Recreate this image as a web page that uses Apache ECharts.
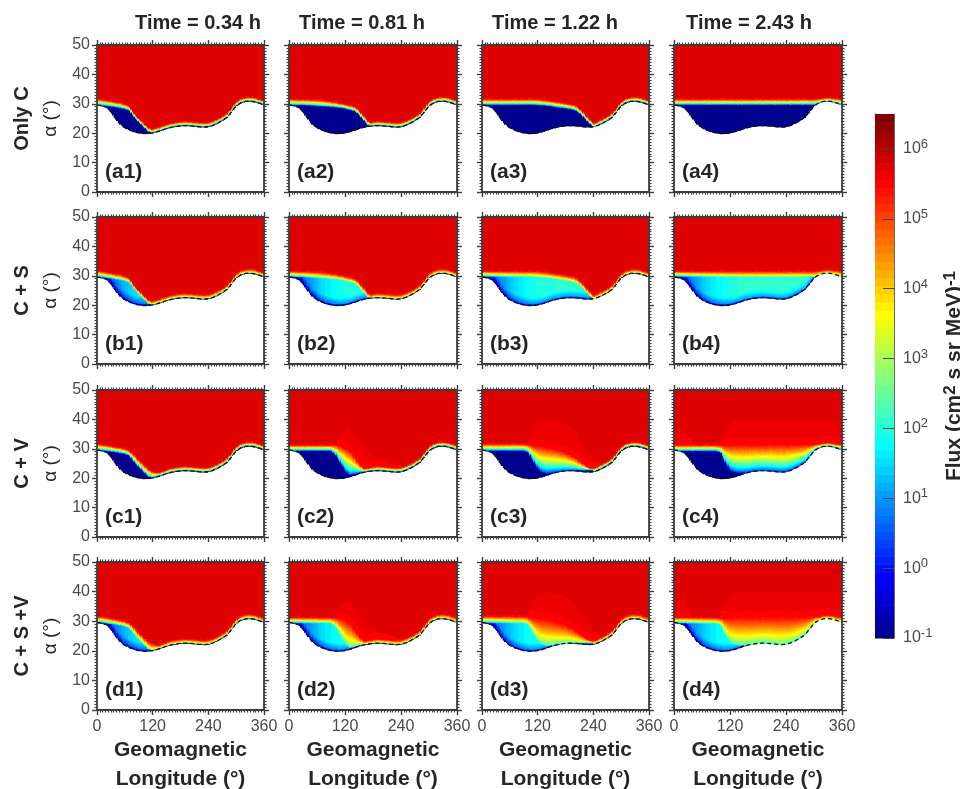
<!DOCTYPE html>
<html><head><meta charset="utf-8">
<style>html,body{margin:0;padding:0;background:#fff}#c{width:960px;height:789px}</style>
<script src="https://cdn.jsdelivr.net/npm/echarts@6/dist/echarts.min.js"></script>
</head><body><div id="c"></div>
<script>
const timeLabels = ['Time = 0.34 h','Time = 0.81 h','Time = 1.22 h','Time = 2.43 h'];
const rowLabels = ['Only C','C + S','C + V','C + S +V'];
const panelTags = ['a','b','c','d'];
const xTicks = [0,120,240,360];
const yTicks = [0,10,20,30,40,50];
const colorbarDecades = [-1,0,1,2,3,4,5,6];

const lossCone = [29.6,29.3,28.9,27.3,25,23.1,21.9,21.1,20.5,20.1,19.9,19.9,20.1,20.5,21,21.6,22,22.3,22.5,22.6,22.5,22.4,22.2,22.1,22.2,22.7,23.4,24.3,25.3,27.2,29.3,30.3,30.8,30.9,30.7,30.2,29.6];

// Upper (red) and lower (blue) edge of the rainbow front; where an array ends, the front lies on the loss cone.
const topC1 = [31.8,31.6,31.4,31.1,30.8,30.5,30,29.3,26.8,25.1,23.6,22.1,21.4];
const botC1 = [29.7,29.6,29.4,29.2,29,28.7,28.4,27.8,25.6,23.9,22.3,20.8,20.1];
const topC2 = [31.7,31.7,31.6,31.6,31.6,31.5,31.5,31.3,31.1,30.9,30.7,30.3,30,29.6,29.2,28,26,24.3,23.1];
const botC2 = [29.8,29.7,29.7,29.7,29.6,29.5,29.4,29.3,29.2,29.1,29,28.8,28.5,28.1,27.7,26.4,24.5,22.8,21.7];
const topC3 = [31.7,31.7,31.7,31.7,31.7,31.7,31.7,31.7,31.7,31.7,31.7,31.7,31.7,31.5,31.3,31.1,30.8,30.6,30.3,30,29.7,28.6,26.9,25.2,23.6,22.7];
const botC3 = [29.8,29.8,29.8,29.8,29.8,29.8,29.8,29.8,29.8,29.8,29.8,29.8,29.7,29.6,29.5,29.3,29,28.8,28.6,28.3,28,27,25.4,23.7,22.2,21.5];
const topC4 = [31.7,31.7,31.7,31.7,31.7,31.7,31.7,31.7,31.7,31.7,31.7,31.7,31.7,31.7,31.7,31.7,31.7,31.7,31.7,31.7,31.7,31.7,31.7,31.7,31.7,31.7,31.7,31.7,31.7,31.7,31.7,31.8,32,32.1,32,31.9,31.7];
const botC4 = [29.8,29.8,29.8,29.8,29.8,29.8,29.8,29.8,29.8,29.8,29.8,29.8,29.8,29.8,29.8,29.8,29.8,29.8,29.8,29.8,29.8,29.8,29.8,29.8,29.8,29.8,29.8,29.8,29.8,29.8,29.8,29.8,29.8,29.8,29.8,29.8,29.8];

const topV1 = [31.8,31.6,31.4,31.1,30.8,30.5,30.2,29.5,28.1,26.3,24.8,23.4,22.4,22,22.2,22.6];
const botV1 = [29.7,29.6,29.4,29.2,29,28.7,28.4,27.8,25.6,23.9,22.3,20.8,20.1];
const topV2 = [31.4,31.4,31.4,31.4,31.4,31.4,31.4,31.4,31.4,31.4,31.4,31,30.4,29.5,27.5,25,23.5,23.3,23.7];
const botV2 = [29.5,29.5,29.5,29.5,29.5,29.5,29.5,29.5,29.5,29.5,28,25.4,22.7,21.2,21.5,22,22.3];
const topV3 = [31.8,31.8,31.8,31.8,31.8,31.8,31.8,31.8,31.8,31.8,31.6,31.2,31,30.9,30.7,30.3,29.9,29.4,28.8,28.1,27.2,26,24.8,23.8,23.2,23];
const botV3 = [29.5,29.5,29.5,29.5,29.5,29.5,29.5,29.5,29.5,29.5,28.8,26.2,23.5,22.2,21.8,22,22.2,22.4,22.6,22.8,22.8,22.8,22.8,22.9,23];
const topV4 = [31.4,31.4,31.4,31.4,31.4,31.4,31.4,31.4,31.4,31.4,31.3,31.3,31.4,31.5,31.5,31.5,31.5,31.5,31.5,31.5,31.5,31.5,31.5,31.5,31.5,31.5,31.5,31.5,31.5,31.5,31.6,31.7,31.8,31.9,31.8,31.7,31.6];
const botV4 = [29.4,29.4,29.4,29.4,29.4,29.4,29.4,29.4,29.4,29.4,28.8,25.4,23,22.2,22,22,22,22,22,22,22,22,22,22,22,22,22,22,22,22,22,22,22,22,22,22,22];

// Upper edge of the slightly brighter red patch; 0 means no patch at that longitude.
const capV2 = [0,0,0,0,0,0,0,0,0,0,31.5,35,36.5,37,35,32.5,30.5,28.5,27.5,26.7,26,25.5,25,24.5,24];
const capV3 = [0,0,0,0,0,0,0,0,0,0,33,37,39,39.7,39.8,39.4,39,38.5,37.8,37,36,33,30.5,28.3,26.7,25.5,24.6,24];
const capV4 = [36.7,36.7,36,34.5,32,0,0,0,0,0,33,36,38.5,39.7,39.7,39.7,39.7,39.7,39.7,39.7,39.7,39.7,39.7,39.7,39.7,39.7,39.7,39.7,39.7,39.7,39.7,39.7,39.7,39.7,39.7,39.7,39.7];

// log10 flux inside the drift loss cone with scattering; last value holds past the end.
const floorS1 = [-0.5,0,0.3,0.6,0.8,1,1.2,1.4,1.5,1.6,1.6,1.7,1.7,1.7];
const floorS2 = [-0.5,0,0.4,0.7,0.9,1.1,1.3,1.5,1.6,1.7,1.8,1.9,1.95,2,2,2,2,2,2];
const floorS3 = [-0.5,0,0.4,0.7,0.9,1.1,1.3,1.5,1.6,1.7,1.8,1.9,1.95,2,2,2,2.05,2.05,2.05,2.05,2.05,2.05,2.05,2.05,2.05,2.05];
const floorS4 = [-0.5,0,0.4,0.7,0.9,1.1,1.3,1.5,1.6,1.7,1.8,1.9,1.95,2,2.05,2.05,2.05,2.1,2.1,2.1,2.1,2.1,2.1,2.1,2.1,2.1,2.1,2.1,2.1,2.1,2.1];

const plateauLog = 5.74, capLog = 5.62, redEdgeLog = 5.5, emptyLog = -1;
const panelCurves = [
  [[topC1,botC1,null,null],[topC2,botC2,null,null],[topC3,botC3,null,null],[topC4,botC4,null,null]],
  [[topC1,botC1,null,floorS1],[topC2,botC2,null,floorS2],[topC3,botC3,null,floorS3],[topC4,botC4,null,floorS4]],
  [[topV1,botV1,null,null],[topV2,botV2,capV2,null],[topV3,botV3,capV3,null],[topV4,botV4,capV4,null]],
  [[topV1,botV1,null,floorS1],[topV2,botV2,capV2,floorS2],[topV3,botV3,capV3,floorS3],[topV4,botV4,capV4,floorS4]]
];

// layout
const colX = [[97,264],[289,457],[482,649],[674,842]];
const rowY = [[45,192],[217,364],[390,537],[562,710]];
const titleCenters = [198,362,555,749];
const ink = '#3c3c3c', textInk = '#262626';

function jet(t){
  const c = v => Math.round(255*Math.max(0,Math.min(1,v)));
  return 'rgb('+c(1.5-Math.abs(4*t-3))+','+c(1.5-Math.abs(4*t-2))+','+c(1.5-Math.abs(4*t-1))+')';
}
const LMIN=-1, LMAX=6.5, LEVELS=64;
function levelOf(l){ return Math.max(0,Math.min(LEVELS-1,Math.floor((l-LMIN)/(LMAX-LMIN)*LEVELS))); }
function colorOf(l){ return jet((levelOf(l)+1)/LEVELS); }
function sample(arr,lon){
  if(!arr) return undefined;
  const p=lon/10, i=Math.floor(p);
  if(i>=arr.length-1) return p<=arr.length-1 ? arr[arr.length-1] : undefined;
  return arr[i]+(arr[i+1]-arr[i])*(p-i);
}
function sampleHold(arr,lon){ const v=sample(arr,lon); return v===undefined?arr[arr.length-1]:v; }

function logFlux(al,b,top,rise,cap,floor){
  const h=al-b;
  let low=emptyLog;
  if(floor!==null){
    if(h<0.7) low=emptyLog+(floor-1-emptyLog)*(h/0.7);
    else if(h<3) low=floor-1+(h-0.7)/2.3;
    else low=floor;
  }
  if(al<rise) return low;
  if(al<top){
    const st=Math.max(floor===null?0:floor,0);
    return st+(redEdgeLog-st)*Math.pow((al-rise)/(top-rise),0.72);
  }
  if(cap>top+0.3){
    if(al<cap) return redEdgeLog+(capLog-redEdgeLog)*Math.min(1,(al-top)/4);
    if(al<cap+0.5) return capLog+(plateauLog-capLog)*(al-cap)/0.5;
    return plateauLog;
  }
  return al<top+0.5 ? redEdgeLog+(plateauLog-redEdgeLog)*(al-top)/0.5 : plateauLog;
}
function buildCells(curves){
  const [tA,bA,cA,fA]=curves, out=[], dl=3, da=0.25;
  for(let lon=0;lon<360;lon+=dl){
    const m=lon+dl/2, b=sample(lossCone,m);
    let top=sample(tA,m), rise=sample(bA,m);
    if(top===undefined) top=b+1.5;
    if(rise===undefined) rise=b+0.2;
    top=Math.max(top,b+1.3); rise=Math.max(rise,b+0.05);
    let cap=cA?sample(cA,m):0; if(cap===undefined) cap=0;
    const floor=fA?sampleHold(fA,m):null;
    let start=b, cur=null, val=0;
    for(let al=b;al<50;al+=da){
      const a1=Math.min(50,al+da), l=logFlux((al+a1)/2,b,top,rise,cap,floor), lv=levelOf(l);
      if(cur===null){cur=lv;val=l;start=al;}
      else if(lv!==cur){out.push([lon,lon+dl,start,al,val]);cur=lv;val=l;start=al;}
    }
    out.push([lon,lon+dl,start,50,val]);
  }
  return out;
}
function renderCell(params,api){
  const p0=api.coord([api.value(0),api.value(3)]), p1=api.coord([api.value(1),api.value(2)]);
  const x0=Math.round(p0[0]), x1=Math.round(p1[0]);
  return {type:'rect',shape:{x:x0,y:p0[1],width:x1-x0,height:p1[1]-p0[1]+0.6},
    style:{fill:colorOf(api.value(4))},silent:true};
}
const grid=[],xAxis=[],yAxis=[],series=[],graphic=[];
const sideAxis=(extra)=>Object.assign({
  axisLine:{show:true,onZero:false,lineStyle:{color:ink,width:1.8}},
  axisTick:{show:true,inside:false,length:5,lineStyle:{color:ink,width:1.4}},
  splitLine:{show:false},minorSplitLine:{show:false},z:5
},extra);
const labelStyle={color:'#4a4a4a',fontSize:16,fontFamily:'Liberation Sans'};
const minor=n=>({show:true,splitNumber:n,length:2.5,lineStyle:{color:ink,width:1.2}});
panelCurves.forEach((row,r)=>row.forEach((curves,c)=>{
  const g=grid.length,[x0,x1]=colX[c],[y0,y1]=rowY[r];
  grid.push({left:x0,top:y0,width:x1-x0,height:y1-y0,show:false,outerBoundsMode:'none'});
  const xBase={type:'value',gridIndex:g,min:xTicks[0],max:xTicks[3],interval:xTicks[1]-xTicks[0]};
  const yBase={type:'value',gridIndex:g,min:yTicks[0],max:yTicks[5],interval:yTicks[1]-yTicks[0]};
  const ax=xAxis.length, ay=yAxis.length;
  xAxis.push(sideAxis(Object.assign({},xBase,{position:'bottom',minorTick:minor(20),
    axisLabel:r===3?Object.assign({show:true,margin:9},labelStyle):{show:false},
    name:r===3?'Geomagnetic\nLongitude (\u00b0)':'',nameLocation:'middle',nameGap:26,
    nameTextStyle:{color:textInk,fontSize:21,fontWeight:'bold',lineHeight:29,fontFamily:'Liberation Sans'}})));
  xAxis.push(sideAxis(Object.assign({},xBase,{position:'top',minorTick:minor(20),axisLabel:{show:false}})));
  yAxis.push(sideAxis(Object.assign({},yBase,{position:'left',minorTick:minor(10),
    axisLabel:c===0?Object.assign({show:true,margin:7},labelStyle):{show:false},
    name:c===0?'\u03b1 (\u00b0)':'',nameLocation:'middle',nameRotate:90,nameGap:37,
    nameTextStyle:{color:textInk,fontSize:19,fontFamily:'Liberation Sans'}})));
  yAxis.push(sideAxis(Object.assign({},yBase,{position:'right',minorTick:minor(10),axisLabel:{show:false}})));
  series.push({type:'custom',xAxisIndex:ax,yAxisIndex:ay,data:buildCells(curves),renderItem:renderCell,
    encode:{x:[0,1],y:[2,3]},clip:true,progressive:0,animation:false,silent:true});
  series.push({type:'line',xAxisIndex:ax,yAxisIndex:ay,data:lossCone.map((v,i)=>[i*10,v]),symbol:'none',z:4,
    lineStyle:{color:'#111',width:1.3,type:[4,3]},animation:false,silent:true});
  graphic.push({type:'text',left:x0+8,top:y1-30,silent:true,style:{text:'('+panelTags[r]+(c+1)+')',fill:textInk,font:'bold 21px "Liberation Sans"'}});
}));
timeLabels.forEach((t,c)=>{
  graphic.push({type:'text',x:titleCenters[c],y:23,silent:true,
    style:{text:t,fill:textInk,font:'bold 20px "Liberation Sans"',textAlign:'center',textVerticalAlign:'middle'}});
});
rowLabels.forEach((t,r)=>{
  graphic.push({type:'text',x:22,y:(rowY[r][0]+rowY[r][1])/2,rotation:Math.PI/2,silent:true,
    style:{text:t,fill:textInk,font:'bold 20px "Liberation Sans"',textAlign:'center',textVerticalAlign:'middle'}});
});
// colour bar
const cbG=grid.length;
grid.push({left:875,top:114,width:19,height:524,show:false,outerBoundsMode:'none'});
const cbX=xAxis.length,cbY=yAxis.length;
xAxis.push({type:'value',gridIndex:cbG,min:0,max:1,position:'bottom',axisLabel:{show:false},axisTick:{show:false},splitLine:{show:false},axisLine:{show:true,onZero:false,lineStyle:{color:'#888',width:1}}});
xAxis.push({type:'value',gridIndex:cbG,min:0,max:1,position:'top',axisLabel:{show:false},axisTick:{show:false},splitLine:{show:false},axisLine:{show:true,onZero:false,lineStyle:{color:'#888',width:1}}});
yAxis.push({type:'value',gridIndex:cbG,min:LMIN,max:LMAX,interval:1,position:'right',z:5,
  axisLine:{show:true,onZero:false,lineStyle:{color:'#666',width:1}},
  axisTick:{show:true,inside:true,length:11,lineStyle:{color:'#444',width:1},customValues:colorbarDecades},
  splitLine:{show:false},
  axisLabel:{show:true,margin:9,customValues:colorbarDecades,
    formatter:v=>'{b|10}{s|'+v+'}',
    rich:{b:{fontSize:16,color:'#4a4a4a',fontFamily:'Liberation Sans'},s:{fontSize:13,color:'#4a4a4a',padding:[0,0,9,0],fontFamily:'Liberation Sans'}}},
  name:'Flux (cm{s|2} s sr MeV){s|-1}',nameLocation:'middle',nameRotate:90,nameGap:48,
  nameTextStyle:{color:textInk,fontSize:21,fontWeight:'bold',fontFamily:'Liberation Sans',padding:[0,0,6,0],
    rich:{s:{fontSize:17,fontWeight:'bold',color:textInk,padding:[0,0,8,0],fontFamily:'Liberation Sans'}}}});
yAxis.push({type:'value',gridIndex:cbG,min:LMIN,max:LMAX,position:'left',axisLabel:{show:false},axisTick:{show:false},splitLine:{show:false},axisLine:{show:true,onZero:false,lineStyle:{color:'#666',width:1}}});
const cbCells=[];
for(let i=0;i<LEVELS;i++){const a=LMIN+(LMAX-LMIN)*i/LEVELS,b=LMIN+(LMAX-LMIN)*(i+1)/LEVELS;cbCells.push([0,1,a,b,(a+b)/2]);}
series.push({type:'custom',xAxisIndex:cbX,yAxisIndex:cbY,data:cbCells,renderItem:renderCell,encode:{x:[0,1],y:[2,3]},clip:true,progressive:0,animation:false,silent:true});

const chart=echarts.init(document.getElementById('c'),null,{renderer:'canvas'});
chart.setOption({animation:false,backgroundColor:'#fff',textStyle:{fontFamily:'Liberation Sans'},grid,xAxis,yAxis,series,graphic});
</script></body></html>
